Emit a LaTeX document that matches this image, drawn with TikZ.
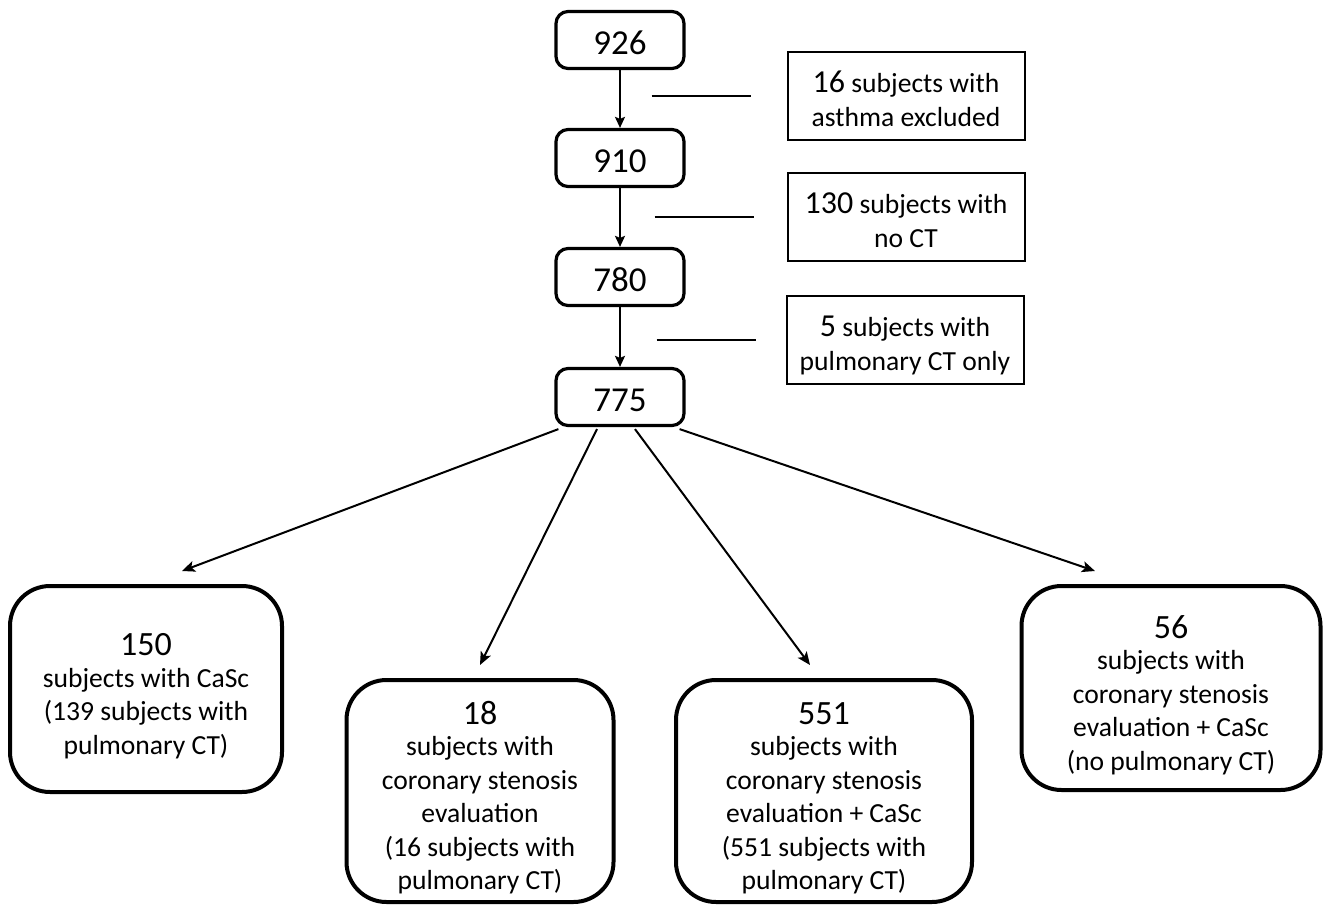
\documentclass[tikz,border=0pt]{standalone}
\usepackage{fontspec}
\setmainfont{Carlito}
\usetikzlibrary{arrows.meta,calc}

\newcommand{\txtsize}{\fontsize{13.8}{17.25}\selectfont}
% leading numbers, with a strut that pushes the block down a little
\newcommand{\exnum}[1]{{\fontsize{16}{17.25}\selectfont\rule{0pt}{17pt}#1}}
\newcommand{\grpnum}[1]{{\fontsize{17}{17.25}\selectfont\rule{0pt}{19.7pt}#1}}

\begin{document}
\begin{tikzpicture}[
  x=0.5pt, y=-0.5pt,
  every node/.style={font=\txtsize},
  >={Stealth[length=6.5pt,width=5.5pt,inset=1.5pt]},
  countbox/.style={draw, line width=1.6pt, rounded corners=6pt,
                   minimum width=64pt, minimum height=28.5pt, inner sep=0pt,
                   text height=14pt, text depth=0pt,
                   font=\fontsize{17.5}{20}\selectfont},
  exclbox/.style={draw, line width=1pt, minimum width=118.5pt,
                  minimum height=44pt, inner sep=0pt, align=center,
                  text depth=3.5pt},
  groupbox/.style={draw, line width=2pt, rounded corners=20pt,
                   inner sep=0pt, align=center, text depth=3.5pt,
                   font=\fontsize{13.8}{16.75}\selectfont},
  flow/.style={->, line width=1pt}
]
% 1 unit = 1 pixel of the 1324x905 frame, y grows downwards
\useasboundingbox (0,0) rectangle (1324,905);

%% --- Main column of counts -----------------------------------
\node[countbox] (n926) at (620, 40)  {926};
\node[countbox] (n910) at (620, 158) {910};
\node[countbox] (n780) at (620, 277) {780};
\node[countbox] (n775) at (620, 397) {775};

\foreach \a/\b in {n926/n910, n910/n780, n780/n775}{
  \draw[line width=1pt, -{Stealth[length=5.5pt,width=5pt,inset=1pt]}] (\a) -- (\b);
}

%% --- Exclusion boxes (square corners) ------------------------
\node[exclbox] (ex1) at (906, 96)
     {\exnum{16} subjects with\\asthma excluded};
\node[exclbox] (ex2) at (906, 217)
     {\exnum{130} subjects with\\no CT};
\node[exclbox] (ex3) at (905, 340)
     {\exnum{5} subjects with\\pulmonary CT only};

% short free-standing strokes left of each exclusion box
\foreach \e/\dx in {ex1/-135, ex2/-132, ex3/-129}{
  \coordinate (\e-a) at ($(\e.west)+(\dx,0)$);
  \coordinate (\e-b) at ($(\e.west)+(\dx+99,0)$);
  \draw[line width=1.2pt] (\e-a) -- (\e-b);
}

%% --- Final groups (rounded) ----------------------------------
\node[groupbox, minimum width=136pt, minimum height=103pt] (g150) at (146, 689)
     {\grpnum{150}\\[-1pt]subjects with CaSc\\(139 subjects with\\pulmonary CT)};
\node[groupbox, minimum width=133.5pt, minimum height=111pt] (g18) at (480, 791)
     {\grpnum{18}\\[-1pt]subjects with\\coronary stenosis\\evaluation\\(16 subjects with\\pulmonary CT)};
\node[groupbox, minimum width=148pt, minimum height=111pt] (g551) at (824, 791)
     {\grpnum{551}\\[-1pt]subjects with\\coronary stenosis\\evaluation + CaSc\\(551 subjects with\\pulmonary CT)};
\node[groupbox, minimum width=149.5pt, minimum height=102pt] (g56) at (1171, 688)
     {\grpnum{56}\\[-1pt]subjects with\\coronary stenosis\\evaluation + CaSc\\(no pulmonary CT)};

%% --- Split arrows from 775 -----------------------------------
\draw[flow] ($(n775.south west)+(4,2)$)  -- ($(g150.north)+(36,-13)$);
\draw[flow] ($(n775.south)+(-23,2)$)     -- ($(g18.north)+(0,-13)$);
\draw[flow] ($(n775.south)+(15,2)$)      -- ($(g551.north)+(-14,-13)$);
\draw[flow] ($(n775.south east)+(-6,2)$) -- ($(g56.north)+(-76,-13)$);

\end{tikzpicture}
\end{document}
